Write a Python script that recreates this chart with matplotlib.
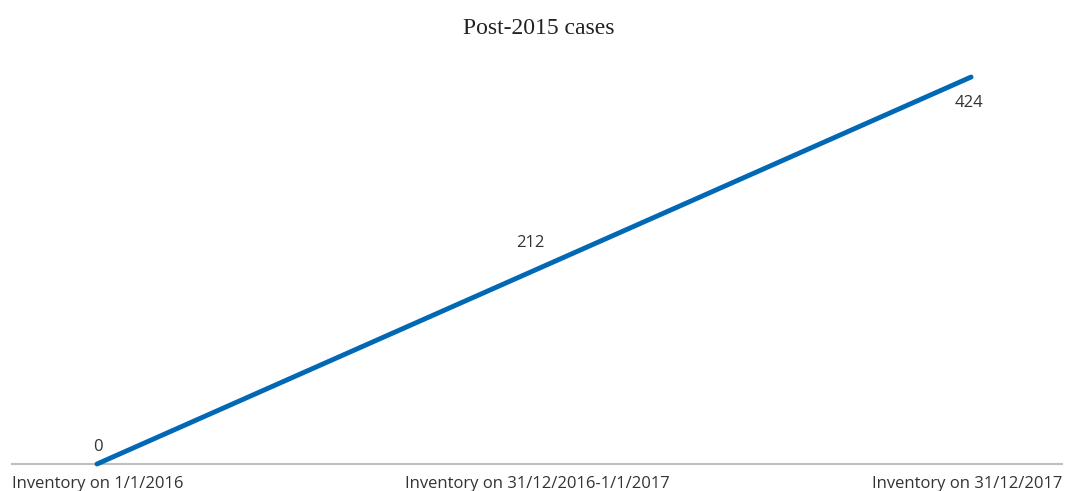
import matplotlib.pyplot as plt

# data
categories = ["Inventory on 1/1/2016", "Inventory on 31/12/2016-1/1/2017", "Inventory on 31/12/2017"]
cases = [0, 212, 424]
# label offsets in points (dx, dy) relative to each point
label_offsets = [(0.7, 12), (-3, 20), (-1.5, -19)]

fig = plt.figure(figsize=(10.69, 4.91), dpi=100)
ax = fig.add_axes([12 / 1069, 27 / 491, 1050 / 1069, 410.7 / 491])

x = list(range(len(categories)))
ax.plot(x, cases, color="#0068B5", linewidth=3.5, solid_capstyle="round", zorder=3, clip_on=False)

for xi, v, off in zip(x, cases, label_offsets):
    ax.annotate(str(v), (xi, v), xytext=off, textcoords="offset points",
                ha="center", va="center", fontsize=12, color="#333333", family="Open Sans")

ax.set_xlim(-0.1945, 2.208)
ax.set_ylim(0, 450)

# category labels: first left-aligned, middle centered, last right-aligned
for pos, lab, ha in zip([0, 0.5, 1], categories, ["left", "center", "right"]):
    ax.text(pos, -0.048, lab, transform=ax.transAxes, ha=ha, va="center",
            fontsize=12, color="#333333", family="Open Sans")

for s in ["top", "right", "left"]:
    ax.spines[s].set_visible(False)
ax.spines["bottom"].set_color("#BFBFBF")
ax.spines["bottom"].set_linewidth(1.5)
ax.set_xticks([])
ax.set_yticks([])

fig.text(539 / 1069, 1 - 29 / 491, "Post-2015 cases", ha="center", va="center",
         fontsize=17, family="Liberation Serif", color="#222222")

fig.savefig("out.png", dpi=100)
